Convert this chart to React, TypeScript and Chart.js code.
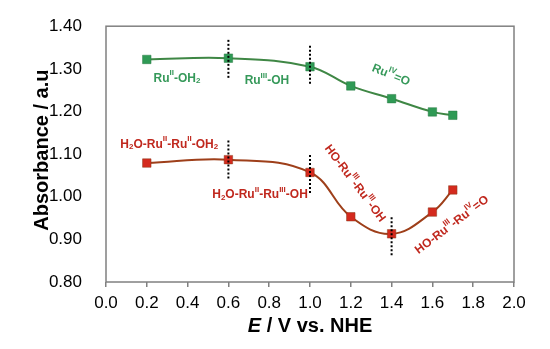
import React, { useEffect, useRef } from "react";
import { Chart, registerables } from "chart.js";

Chart.register(...registerables);

const potentials = [0.2, 0.6, 1.0, 1.2, 1.4, 1.6, 1.7];
const monomerAbs = [1.322, 1.325, 1.305, 1.26, 1.23, 1.199, 1.191];
const dimerAbs = [1.079, 1.087, 1.057, 0.953, 0.913, 0.964, 1.016];

const xTicksMin = 0;
const xTicksMax = 2;
const yTicksMin = 0.8;
const yTicksMax = 1.4;

// dotted marker lines: [x, yTop, yBottom]
const dottedLines: [number, number, number][] = [
  [0.6, 1.368, 1.275],
  [1.0, 1.354, 1.264],
  [0.6, 1.132, 1.04],
  [1.0, 1.098, 1.005],
  [1.4, 0.952, 0.86],
];

const GREEN = "#2f9a55";
const GREEN_LINE = "#3f8745";
const RED = "#d42a1e";
const RED_LINE = "#9e3f1a";
const RED_TEXT = "#c0281e";
const GREEN_TEXT = "#36995a";

const labelTexts = [
  "Ru^{II}-OH_{2}",
  "Ru^{III}-OH",
  "Ru^{IV}=O",
  "H_{2}O-Ru^{II}-Ru^{II}-OH_{2}",
  "H_{2}O-Ru^{II}-Ru^{III}-OH",
  "HO-Ru^{III}-Ru^{III}-OH",
  "HO-Ru^{III}-Ru^{IV}=O",
];
const labelX = [0.348, 0.789, 1.397, 0.31, 0.755, 1.22, 1.696];
const labelY = [1.278, 1.273, 1.285, 1.123, 1.005, 1.031, 0.934];
const labelRot = [0, 0, 22, 0, 0, 53, -37];
const labelColor = [GREEN_TEXT, GREEN_TEXT, GREEN_TEXT, RED_TEXT, RED_TEXT, RED_TEXT, RED_TEXT];

const FONT = "'Liberation Sans', Arial, sans-serif";

type Seg = { t: string; m: "n" | "sup" | "sub" };
function parse(s: string): Seg[] {
  const out: Seg[] = [];
  let i = 0;
  let buf = "";
  while (i < s.length) {
    const c = s[i];
    if ((c === "^" || c === "_") && s[i + 1] === "{") {
      if (buf) out.push({ t: buf, m: "n" });
      buf = "";
      const end = s.indexOf("}", i);
      out.push({ t: s.slice(i + 2, end), m: c === "^" ? "sup" : "sub" });
      i = end + 1;
    } else {
      buf += c;
      i++;
    }
  }
  if (buf) out.push({ t: buf, m: "n" });
  return out;
}

function drawRich(ctx: CanvasRenderingContext2D, text: string, x: number, y: number, rot: number, color: string) {
  const segs = parse(text);
  const main = `bold 12px ${FONT}`;
  const small = `bold 8px ${FONT}`;
  let w = 0;
  for (const s of segs) {
    ctx.font = s.m === "n" ? main : small;
    w += ctx.measureText(s.t).width;
  }
  ctx.save();
  ctx.translate(x, y);
  ctx.rotate((rot * Math.PI) / 180);
  ctx.fillStyle = color;
  ctx.textBaseline = "middle";
  ctx.textAlign = "left";
  let cx = -w / 2;
  for (const s of segs) {
    ctx.font = s.m === "n" ? main : small;
    const dy = s.m === "sup" ? -5 : s.m === "sub" ? 3 : 0;
    ctx.fillText(s.t, cx, dy);
    cx += ctx.measureText(s.t).width;
  }
  ctx.restore();
}

const decorPlugin = {
  id: "decor",
  afterDraw(chart: any) {
    const { ctx, chartArea, scales } = chart;
    ctx.save();
    ctx.strokeStyle = "#808080";
    ctx.lineWidth = 1.5;
    ctx.strokeRect(chartArea.left, chartArea.top, chartArea.right - chartArea.left, chartArea.bottom - chartArea.top);
    for (let i = 0; i < labelTexts.length; i++) {
      drawRich(
        ctx,
        labelTexts[i],
        scales.x.getPixelForValue(labelX[i]),
        scales.y.getPixelForValue(labelY[i]),
        labelRot[i],
        labelColor[i]
      );
    }
    ctx.fillStyle = "#000";
    ctx.font = `bold 20px ${FONT}`;
    ctx.textAlign = "center";
    ctx.textBaseline = "middle";
    ctx.save();
    ctx.translate(42, (chartArea.top + chartArea.bottom) / 2 - 4);
    ctx.rotate(-Math.PI / 2);
    ctx.fillText("Absorbance / a.u", 0, 0);
    ctx.restore();
    const p1 = "E";
    const p2 = " / V vs. NHE";
    ctx.font = `italic bold 20px ${FONT}`;
    const w1 = ctx.measureText(p1).width;
    ctx.font = `bold 20px ${FONT}`;
    const w2 = ctx.measureText(p2).width;
    const cx = (chartArea.left + chartArea.right) / 2 - (w1 + w2) / 2;
    ctx.textAlign = "left";
    ctx.font = `italic bold 20px ${FONT}`;
    ctx.fillText(p1, cx, 326);
    ctx.font = `bold 20px ${FONT}`;
    ctx.fillText(p2, cx + w1, 326);
    ctx.restore();
  },
};

export default function App() {
  const ref = useRef<HTMLCanvasElement>(null);
  useEffect(() => {
    if (!ref.current) return;
    const dotted = dottedLines.map(([x, y1, y2]) => ({
      data: [
        { x, y: y1 },
        { x, y: y2 },
      ],
      borderColor: "#000",
      borderWidth: 2,
      borderDash: [2, 2],
      pointRadius: 0,
      tension: 0,
      order: 0,
    }));
    const chart = new Chart(ref.current, {
      type: "line",
      data: {
        datasets: [
          ...dotted,
          {
            data: potentials.map((x, i) => ({ x, y: monomerAbs[i] })),
            borderColor: GREEN_LINE,
            borderWidth: 2,
            backgroundColor: GREEN,
            pointBackgroundColor: GREEN,
            pointBorderColor: "#2a7a45",
            pointBorderWidth: 0.5,
            pointStyle: "rect",
            pointRadius: 6,
            tension: 0.4,
            order: 1,
          },
          {
            data: potentials.map((x, i) => ({ x, y: dimerAbs[i] })),
            borderColor: RED_LINE,
            borderWidth: 2,
            backgroundColor: RED,
            pointBackgroundColor: RED,
            pointBorderColor: "#8a3a1a",
            pointBorderWidth: 0.5,
            pointStyle: "rect",
            pointRadius: 6,
            tension: 0.4,
            order: 1,
          },
        ] as any,
      },
      options: {
        animation: false,
        responsive: false,
        maintainAspectRatio: false,
        layout: { padding: { left: 0, top: 22, right: 36, bottom: 0 } },
        plugins: { legend: { display: false }, tooltip: { enabled: false } },
        scales: {
          x: {
            type: "linear",
            min: xTicksMin,
            max: xTicksMax,
            ticks: {
              stepSize: 0.2,
              callback: (v: any) => Number(v).toFixed(1),
              font: { family: FONT, size: 17 },
              color: "#000",
              padding: 6,
              maxRotation: 0,
              autoSkip: false,
            },
            grid: { display: true, drawOnChartArea: false, drawTicks: true, tickLength: 5, color: "#808080", lineWidth: 1.5 },
            border: { display: false },
            afterFit: (s: any) => {
              s.height = 67;
            },
          },
          y: {
            type: "linear",
            min: yTicksMin,
            max: yTicksMax,
            ticks: {
              stepSize: 0.1,
              callback: (v: any) => Number(v).toFixed(2),
              font: { family: FONT, size: 17 },
              color: "#000",
              padding: 16,
            },
            grid: { display: false },
            border: { display: false },
            afterFit: (s: any) => {
              s.width = 106;
            },
          },
        },
      } as any,
      plugins: [decorPlugin],
    });
    return () => chart.destroy();
  }, []);
  return (
    <div style={{ position: "fixed", left: 0, top: 0, width: 550, height: 349, background: "#fff" }}>
      <canvas ref={ref} width={550} height={349} style={{ width: 550, height: 349 }} />
    </div>
  );
}
